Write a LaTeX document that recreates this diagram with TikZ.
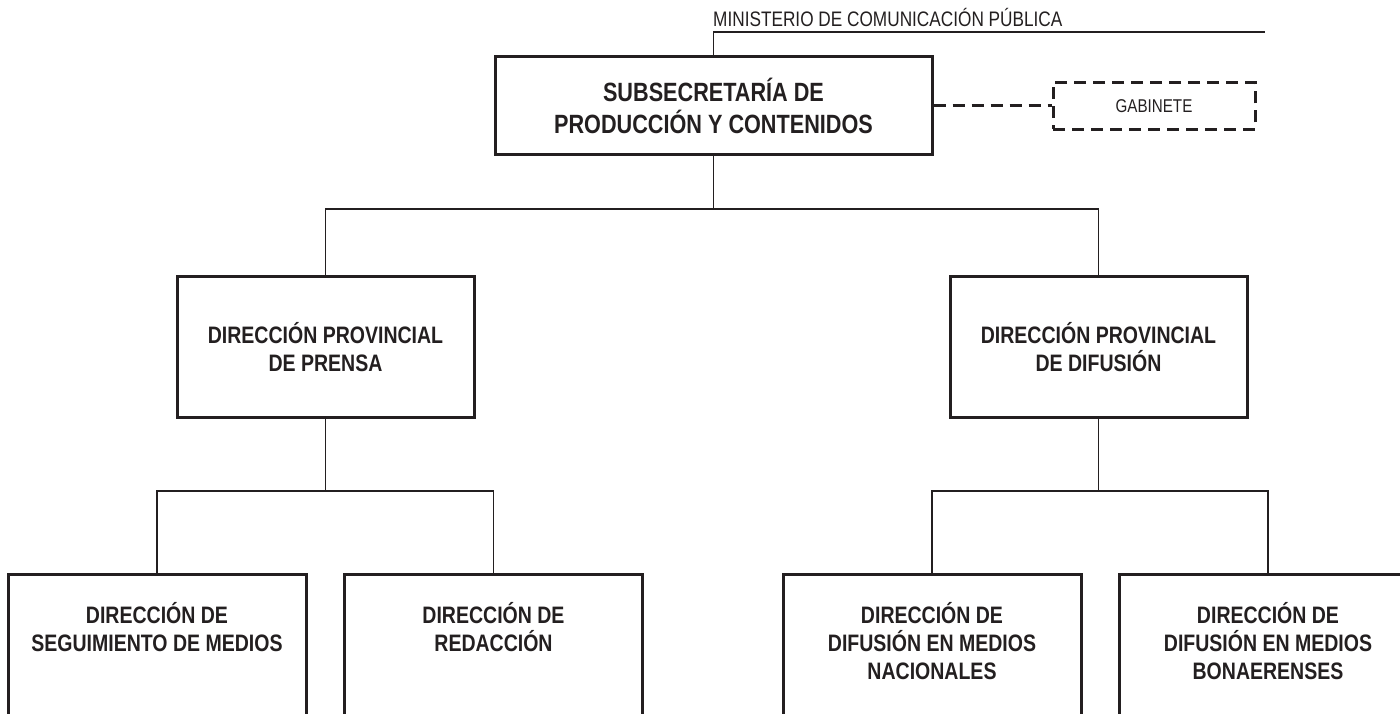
\documentclass[tikz,border=0pt]{standalone}
\usepackage{fontspec}
\setmainfont{Liberation Sans}[FakeStretch=0.82]
\definecolor{orgink}{HTML}{231F20}

\tikzset{%
		every unit/.style={
			draw=orgink,
			line width=3pt,
			align=center,
			text=orgink,
			inner sep=0pt,
			font=\bfseries\fontsize{23.8}{28}\selectfont
		},
		unit top/.style={
			minimum width=437pt,
			minimum height=98pt,
			font=\bfseries\fontsize{26.4}{32}\selectfont
		},
		unit staff/.style={
			dash pattern=on 12pt off 7pt,
			minimum width=202pt,
			minimum height=47pt,
			font=\fontsize{18.5}{20}\selectfont
		},
		unit mid/.style={
			minimum width=297pt,
			minimum height=141pt
		},
		unit low/.style={
			anchor=north,
			minimum width=298pt,
			inner ysep=28pt,
			text depth=120pt
		},
		link/.style={
			draw=orgink,
			line width=1.3pt
		},
		staff link/.style={
			draw=orgink,
			line width=3pt,
			dash pattern=on 12pt off 7pt
		},
	}

\begin{document}
\begin{tikzpicture}[x=1pt, y=-1pt]
			% fix the page
			\useasboundingbox (0,0) rectangle (1400,714);
			\clip (0,0) rectangle (1400,714);
			
			% ministry label
			\node [anchor=base west, inner sep=0pt, text=orgink, font=\fontsize{21}{24}\selectfont] (ministry) at (713,27) {MINISTERIO DE COMUNICACIÓN PÚBLICA};
			\coordinate (ministry-end) at (1265,32);
			
			% draw top unit and staff
			\node [every unit/.try, unit top/.try] (unit-top) at (713.5,106) {SUBSECRETARÍA DE\\PRODUCCIÓN Y CONTENIDOS};
			\node [every unit/.try, unit staff/.try] (unit-staff) at (1154,106) {GABINETE};
			
			% draw units in second level
			\foreach \m/\x/\l in {prensa/325.5/DIRECCIÓN PROVINCIAL\\DE PRENSA, difusion/1098.5/DIRECCIÓN PROVINCIAL\\DE DIFUSIÓN}
			\node [every unit/.try, unit mid/.try] (unit-\m) at (\x,347) {\l};
			
			% draw units in third level
			\foreach \m/\x/\l in {seguimiento/157/DIRECCIÓN DE\\SEGUIMIENTO DE MEDIOS, redaccion/493.5/DIRECCIÓN DE\\REDACCIÓN, nacionales/932/DIRECCIÓN DE\\DIFUSIÓN EN MEDIOS\\NACIONALES, bonaerenses/1268/DIRECCIÓN DE\\DIFUSIÓN EN MEDIOS\\BONAERENSES}
			\node [every unit/.try, unit low/.try] (unit-\m) at (\x,573) {\l};
			
			% split points
			\coordinate (split-top) at (713.5,209);
			\coordinate (split-left) at (325.5,491);
			\coordinate (split-right) at (1098.5,491);
			
			% draw links to ministry and staff
			\draw [link] (unit-top.north) |- (ministry-end);
			\draw [staff link] (unit-top) -- (unit-staff);
			
			% draw links between top and second level
			\draw [link] (unit-top) -- (split-top);
			\draw [link] (unit-prensa) |- (split-top) -| (unit-difusion);
			
			% draw links between second and third level
			\draw [link] (unit-prensa) -- (split-left);
			\draw [link] (unit-seguimiento) |- (split-left) -| (unit-redaccion);
			\draw [link] (unit-difusion) -- (split-right);
			\draw [link] (unit-nacionales) |- (split-right) -| (unit-bonaerenses);
			\end{tikzpicture}
\end{document}
